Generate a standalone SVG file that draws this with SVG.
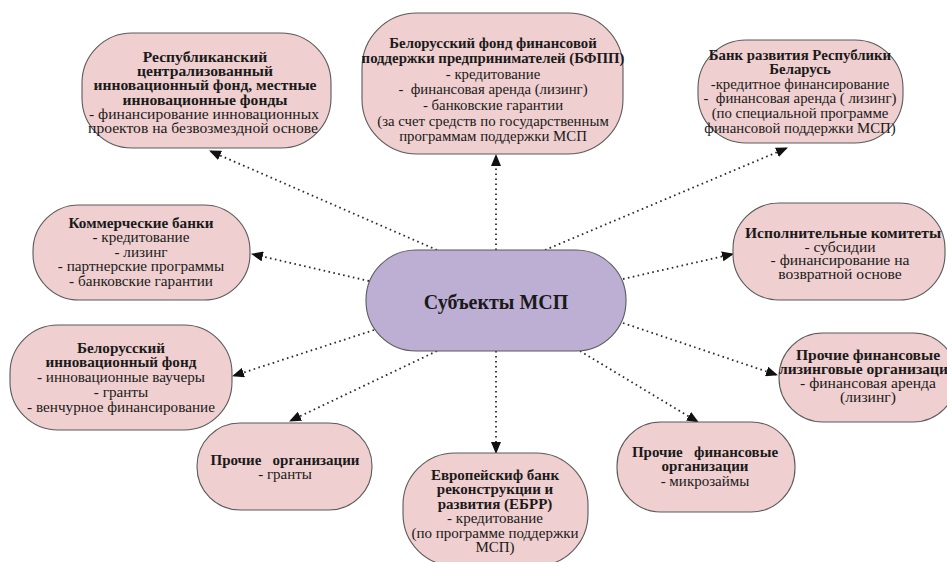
<svg xmlns="http://www.w3.org/2000/svg" width="947" height="562" viewBox="0 0 947 562">
<style>
.node{fill:#efcfcf;stroke:#5a5a5a;stroke-width:1.1}
.center{fill:#bdaed3;stroke:#5a5a5a;stroke-width:1.1}
text{font-family:"Liberation Serif","Times New Roman",serif;font-size:15px;fill:#1a1a1a;text-anchor:middle;white-space:pre}
.b{font-weight:bold}
#center text{font-size:20px;font-weight:bold}
#n1 text,#n6 text,#n7 text{font-size:15.6px}
#n2 text,#n3 text{font-size:14.8px}
#n4 text,#n5 text{font-size:15.2px}
.con{fill:none;stroke:#2a2a2a;stroke-width:1.8;stroke-dasharray:1.6 3.4}
</style>
<defs>
<marker id="arr" viewBox="0 0 12 10" refX="11" refY="5" markerWidth="12" markerHeight="10" markerUnits="userSpaceOnUse" orient="auto">
<path d="M0,0 L12,5 L0,10 Z" fill="#111"/>
</marker>
</defs>
<rect width="947" height="562" fill="#ffffff"/>
<g id="connectors">
<line class="con" x1="437" y1="250" x2="210" y2="151" marker-end="url(#arr)"/>
<line class="con" x1="496" y1="250" x2="496" y2="155" marker-end="url(#arr)"/>
<line class="con" x1="545" y1="250" x2="787" y2="148" marker-end="url(#arr)"/>
<line class="con" x1="369" y1="281" x2="252" y2="254" marker-end="url(#arr)"/>
<line class="con" x1="374" y1="330" x2="233" y2="376" marker-end="url(#arr)"/>
<line class="con" x1="437" y1="351" x2="290" y2="421" marker-end="url(#arr)"/>
<line class="con" x1="496" y1="351" x2="496" y2="453" marker-end="url(#arr)"/>
<line class="con" x1="580" y1="351" x2="698" y2="422" marker-end="url(#arr)"/>
<line class="con" x1="623" y1="323" x2="777" y2="375" marker-end="url(#arr)"/>
<line class="con" x1="623" y1="279" x2="733" y2="254" marker-end="url(#arr)"/>
</g>
<g id="center">
<rect class="center" x="366" y="250" width="260" height="101" rx="50" ry="50"/>
<text x="496" y="309">Субъекты МСП</text>
</g>
<g id="n1">
<rect class="node" x="82" y="33" width="249" height="115" rx="50" ry="50"/>
<text class="b" x="205" y="62">Республиканский</text>
<text class="b" x="205" y="76.2">централизованный</text>
<text class="b" x="205" y="90.4">инновационный фонд, местные</text>
<text class="b" x="205" y="104.6">инновационные фонды</text>
<text x="204" y="118.8">- финансирование инновационных</text>
<text x="203" y="133">проектов на безвозмездной основе</text>
</g>
<g id="n2">
<rect class="node" x="362" y="13" width="261" height="141" rx="55" ry="55"/>
<text class="b" x="493" y="47.5">Белорусский фонд финансовой</text>
<text class="b" x="493" y="63.1">поддержки предпринимателей (БФПП)</text>
<text x="493" y="78.7">- кредитование</text>
<text x="493" y="94.3">-  финансовая аренда (лизинг)</text>
<text x="493" y="109.9">- банковские гарантии</text>
<text x="493" y="125.5">(за счет средств по государственным</text>
<text x="493" y="141.1">программам поддержки МСП</text>
</g>
<g id="n3">
<rect class="node" x="698" y="40" width="205" height="103" rx="48" ry="48"/>
<text class="b" x="800" y="59.5">Банк развития Республики</text>
<text class="b" x="800" y="74.1">Беларусь</text>
<text x="800" y="88.7">-кредитное финансирование</text>
<text x="800" y="103.3">-  финансовая аренда ( лизинг)</text>
<text x="800" y="117.9">(по специальной программе</text>
<text x="800" y="132.5">финансовой поддержки МСП)</text>
</g>
<g id="n4">
<rect class="node" x="33" y="205" width="217" height="95" rx="46" ry="46"/>
<text class="b" x="141" y="227.5">Коммерческие банки</text>
<text x="141" y="242">- кредитование</text>
<text x="141" y="256.5">- лизинг</text>
<text x="141" y="271">- партнерские программы</text>
<text x="141" y="285.5">- банковские гарантии</text>
</g>
<g id="n5">
<rect class="node" x="10" y="325" width="222" height="105" rx="48" ry="48"/>
<text class="b" x="121" y="352.5">Белорусский</text>
<text class="b" x="121" y="367.2">инновационный фонд</text>
<text x="121" y="382">- инновационные ваучеры</text>
<text x="121" y="396.7">- гранты</text>
<text x="121" y="411.5">- венчурное финансирование</text>
</g>
<g id="n6">
<rect class="node" x="733" y="203" width="212" height="97" rx="46" ry="46"/>
<text class="b" x="843" y="237.5">Исполнительные комитеты</text>
<text x="840" y="251.5">- субсидии</text>
<text x="840" y="265">- финансирование на</text>
<text x="840" y="278.5">возвратной основе</text>
</g>
<g id="n7">
<rect class="node" x="779" y="333" width="178" height="89" rx="44" ry="44"/>
<text class="b" x="868" y="360">Прочие финансовые</text>
<text class="b" x="868" y="374">лизинговые организации</text>
<text x="868" y="388">- финансовая аренда</text>
<text x="868" y="402">(лизинг)</text>
</g>
<g id="n8">
<rect class="node" x="197" y="423" width="175" height="87" rx="43" ry="43"/>
<text class="b" x="285" y="464.5">Прочие   организации</text>
<text x="285" y="479">- гранты</text>
</g>
<g id="n9">
<rect class="node" x="403" y="453" width="185" height="113" rx="52" ry="52"/>
<text class="b" x="495" y="479.5">Европейскиф банк</text>
<text class="b" x="495" y="494">реконструкции и</text>
<text class="b" x="495" y="508.5">развития (ЕБРР)</text>
<text x="495" y="523">- кредитование</text>
<text x="495" y="537.5">(по программе поддержки</text>
<text x="495" y="552">МСП)</text>
</g>
<g id="n10">
<rect class="node" x="617" y="422" width="178" height="90" rx="44" ry="44"/>
<text class="b" x="705" y="456.5">Прочие   финансовые</text>
<text class="b" x="705" y="471">организации</text>
<text x="705" y="485.5">- микрозаймы</text>
</g>
</svg>
